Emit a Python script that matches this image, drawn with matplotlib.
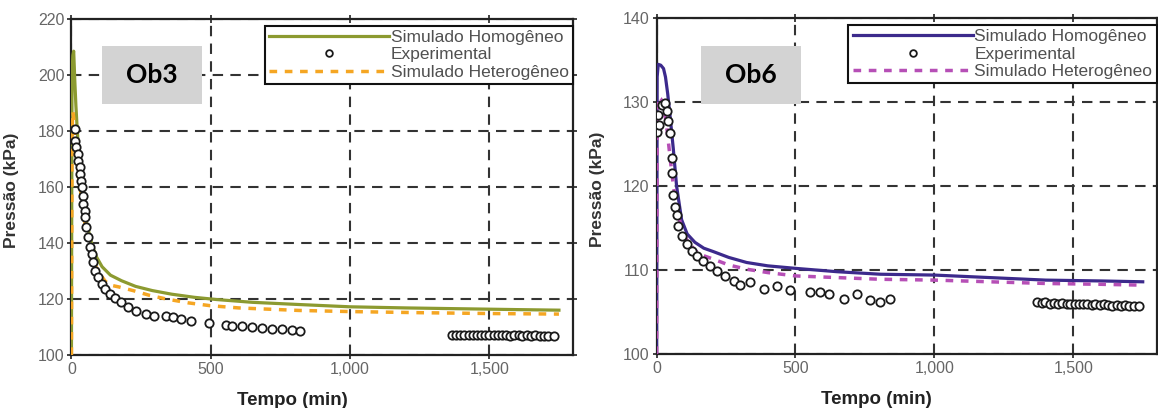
import matplotlib
matplotlib.use("Agg")
import matplotlib.pyplot as plt
from matplotlib.patches import Rectangle
from matplotlib.ticker import FuncFormatter, MultipleLocator

plt.rcParams['font.family'] = ['Liberation Sans', 'DejaVu Sans']

# --- Ob3 ---
ob3_hom_t = [0, 2, 5, 8, 12, 16, 21, 28, 36, 45, 55, 72, 90, 110, 140, 180, 230, 290,
             360, 440, 520, 650, 820, 1000, 1200, 1400, 1600, 1750]
ob3_hom_p = [100, 200, 207, 208.5, 198, 189, 180, 169, 160, 153, 147, 140, 135, 131.5,
             128.5, 126.5, 124.5, 123, 121.7, 120.6, 119.8, 118.8, 118, 117.2, 116.8,
             116.5, 116.2, 116]
ob3_het_t = [0, 2, 5, 9, 14, 20, 26, 32, 40, 50, 59, 72, 88, 102, 120, 137, 170, 221,
             280, 340, 420, 498, 600, 816, 1000, 1250, 1500, 1750]
ob3_het_p = [100, 180, 187, 184, 176, 168, 163, 159, 153, 146, 141, 136, 131.5, 129,
             126.5, 125, 124.3, 123, 121.3, 120, 118.6, 117.6, 116.8, 115.9, 115.5,
             115.1, 114.8, 114.6]
ob3_exp_t = [12, 13, 18, 24, 25, 30, 31, 36, 37, 42, 43, 48, 49, 54, 60, 66, 72, 78, 84,
             96, 108, 120, 137, 155, 179, 203, 233, 268, 298, 340, 364, 394, 429, 495,
             554, 577, 614, 649, 685, 721, 756, 792, 821,
             1365, 1381, 1394, 1410, 1426, 1441, 1455, 1470, 1486, 1499, 1516, 1530,
             1545, 1561, 1574, 1590, 1606, 1619, 1636, 1650, 1664, 1681, 1696, 1712, 1733]
ob3_exp_p = [180.7, 176.5, 174.2, 171.8, 169.4, 167, 164.6, 162.3, 159.9, 156.9, 153.9,
             151.5, 149.2, 145.6, 142, 138.5, 136.1, 133.1, 130.1, 127.7, 125.4, 123.6,
             121.8, 120.4, 118.8, 117.3, 115.8, 114.8, 114, 113.8, 113.5, 112.9, 112.3,
             111.5, 110.6, 110.5, 110.3, 109.9, 109.7, 109.4, 109.2, 108.8, 108.7,
             107.1, 107.2, 107.0, 107.1, 107.2, 107.0, 107.1, 107.0, 107.2, 107.1, 107.0,
             107.1, 107.0, 107.1, 106.9, 107.0, 107.1, 106.9, 107.0, 106.9, 107.0, 106.9,
             106.9, 106.8, 106.9]

# --- Ob6 ---
ob6_hom_t = [0, 2, 6, 15, 25, 32, 40, 48, 60, 72, 90, 110, 138, 170, 204, 260, 324,
             400, 500, 650, 806, 1000, 1200, 1400, 1600, 1750]
ob6_hom_p = [100, 133, 134.5, 134.4, 134, 133, 131, 128.5, 124.5, 120, 116, 114.3,
             113.3, 112.6, 112.2, 111.5, 110.9, 110.5, 110.2, 109.8, 109.5, 109.4,
             109.1, 108.8, 108.7, 108.6]
ob6_het_t = [0, 2, 6, 15, 25, 35, 45, 55, 65, 75, 90, 110, 140, 170, 204, 260, 324,
             400, 500, 650, 806, 1000, 1200, 1400, 1600, 1750]
ob6_het_p = [100, 129.5, 130.6, 130.4, 129.5, 127.5, 124.5, 121.5, 119, 117, 115,
             113.5, 112.3, 111.7, 111.3, 110.6, 110.1, 109.7, 109.3, 109.1, 108.9,
             108.8, 108.6, 108.4, 108.3, 108.2]
ob6_exp_t = [3, 6, 8, 18, 30, 36, 42, 48, 54, 56, 60, 66, 72, 78, 90, 108, 126, 144,
             168, 192, 216, 246, 277, 300, 337, 385, 433, 481, 553, 589, 619, 673, 721,
             769, 806, 841,
             1371, 1386, 1400, 1415, 1431, 1446, 1460, 1476, 1490, 1505, 1520, 1536,
             1550, 1566, 1580, 1595, 1611, 1626, 1640, 1656, 1671, 1686, 1701, 1718, 1736]
ob6_exp_p = [126.5, 128.5, 127.3, 129.7, 129.9, 128.9, 127.7, 126.3, 123.3, 121.5,
             118.9, 117.5, 116.5, 115.3, 114.1, 113.1, 112.3, 111.7, 111.1, 110.5, 109.9,
             109.3, 108.7, 108.2, 108.6, 107.8, 108.1, 107.6, 107.4, 107.4, 107.2, 106.6,
             107.2, 106.4, 106.2, 106.6,
             106.2, 106.1, 106.2, 106.0, 106.1, 106.0, 106.1, 106.0, 105.9, 106.0, 105.9,
             106.0, 105.9, 105.8, 105.9, 105.8, 105.9, 105.8, 105.7, 105.8, 105.7, 105.8,
             105.7, 105.7, 105.7]

labels = ['Simulado Homogêneo', 'Experimental', 'Simulado Heterogêneo']

fig = plt.figure(figsize=(11.58, 4.08), dpi=100)
ax1 = fig.add_axes([0.0617, 0.130, 0.433, 0.8235])
ax2 = fig.add_axes([0.567, 0.1324, 0.4318, 0.823])


def draw_panel(ax, t_hom, p_hom, t_het, p_het, t_exp, p_exp, c_hom, c_het,
               ylim, ystep, tag, tag_box):
    l1, = ax.plot(t_hom, p_hom, color=c_hom, lw=2.3, zorder=3)
    l3, = ax.plot(t_het, p_het, color=c_het, lw=2.5, dashes=(2.2, 2.2), zorder=4)
    l2, = ax.plot(t_exp, p_exp, ls='none', marker='o', ms=6, mfc='white',
                  mec='#1a1a1a', mew=1.3, zorder=5)
    ax.set_xlim(0, 1800)
    ax.set_ylim(*ylim)
    ax.xaxis.set_major_locator(MultipleLocator(500))
    ax.yaxis.set_major_locator(MultipleLocator(ystep))
    ax.xaxis.set_major_formatter(FuncFormatter(lambda v, p: f'{v:,.0f}'))
    ax.grid(True, ls=(0, (5, 3.5)), color='#333333', lw=1.5, zorder=1)
    ax.tick_params(direction='inout', length=6, width=1.3, top=True, right=True,
                   labelsize=11.5, labelcolor='#666666', colors='#333333', pad=2)
    for s in ax.spines.values():
        s.set_linewidth(1.6)
        s.set_color('#222222')
    ax.set_xlabel('Tempo (min)', fontsize=13.5, fontweight='bold', color='#222222')
    ax.set_ylabel('Pressão (kPa)', fontsize=12.5, fontweight='bold', color='#333333')
    ax.xaxis.set_label_coords(0.44, -0.11)
    ax.yaxis.set_label_coords(-0.104, 0.49)
    leg = ax.legend([l1, l2, l3], labels, loc='upper right',
                    bbox_to_anchor=(1.0, 0.98), borderaxespad=0, fancybox=False,
                    framealpha=1, edgecolor='#111111', handlelength=6.9,
                    handletextpad=0.1, labelspacing=0.12, borderpad=0.25,
                    fontsize=12.5, markerscale=0.8)
    leg.get_frame().set_linewidth(1.5)
    for txt in leg.get_texts():
        txt.set_color('#505050')
    leg.set_zorder(6)
    # tag box over the plot
    x0, y0, w, h = tag_box
    fig.patches.append(Rectangle((x0, y0), w, h, transform=fig.transFigure,
                                 facecolor='#d3d3d3', edgecolor='none', zorder=10))
    fig.text(x0 + w / 2, y0 + h / 2, tag, ha='center', va='center', fontsize=19,
             fontweight='bold', family='Lato', color='black', zorder=11)


draw_panel(ax1, ob3_hom_t, ob3_hom_p, ob3_het_t, ob3_het_p, ob3_exp_t, ob3_exp_p,
           '#8c9a30', '#f5a623', (100, 220), 20, 'Ob3',
           (101.7 / 1158, 1 - 104.3 / 408, 100.6 / 1158, 58.6 / 408))
draw_panel(ax2, ob6_hom_t, ob6_hom_p, ob6_het_t, ob6_het_p, ob6_exp_t, ob6_exp_p,
           '#3c2a8c', '#b64fb6', (100, 140), 10, 'Ob6',
           (700.7 / 1158, 1 - 104.3 / 408, 100 / 1158, 58.6 / 408))

fig.savefig('out.png', dpi=100)
